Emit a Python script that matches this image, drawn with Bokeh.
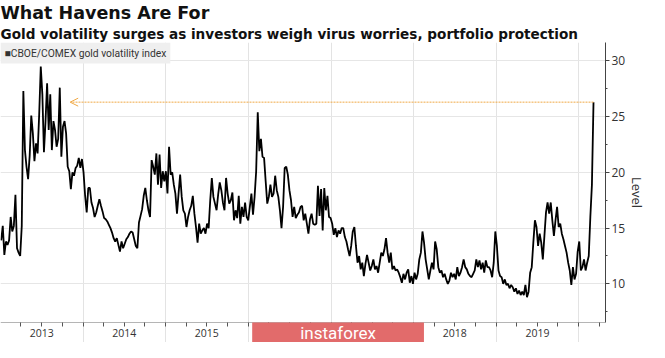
import pandas as pd
from bokeh.plotting import figure
from bokeh.models import (Range1d, FixedTicker, Title, Arrow, OpenHead, Label,
                          CustomJSTickFormatter)
from bokeh.embed import file_html
from bokeh.resources import INLINE

title_text = "What Havens Are For"
subtitle_text = "Gold volatility surges as investors weigh virus worries, portfolio protection"
series_name = "CBOE/COMEX gold volatility index"
y_axis_title = "Level"
watermark_text = "instaforex"

# weekly readings (Fridays), first week ending 2013-01-04
first_week = "2013-01-04"
level_2013 = [13.9, 15.2, 12.6, 13.8, 13.5, 13.9, 16.0, 14.7, 15.2, 18.0,
              13.2, 12.8, 12.5, 15.2, 27.3, 22.0, 20.5, 19.4, 21.5, 25.1,
              23.5, 21.0, 22.6, 21.7, 25.2, 29.5, 27.0, 21.8, 24.6, 28.0,
              23.8, 27.0, 22.0, 24.6, 23.8, 22.3, 23.0, 27.6, 21.4, 24.1,
              24.6, 23.5, 20.5, 20.1, 18.5, 20.0, 19.7, 20.4, 20.6, 21.3,
              20.4, 21.2]
level_2014 = [20.0, 17.9, 16.4, 18.6, 18.6, 17.3, 16.8, 16.0, 16.4, 17.0,
              17.6, 17.0, 16.5, 15.9, 15.8, 15.6, 15.3, 15.0, 14.6, 14.1,
              13.8, 14.1, 13.5, 12.9, 13.8, 13.2, 13.6, 14.0, 14.2, 14.5,
              14.7, 14.6, 14.0, 13.4, 13.2, 15.5, 16.1, 16.7, 17.9, 18.6,
              17.5, 16.6, 16.0, 21.1, 20.5, 19.8, 21.7, 18.9, 21.6, 18.6,
              20.1, 19.2]
level_2015 = [20.1, 18.1, 22.3, 19.8, 20.0, 18.9, 18.1, 16.3, 18.1, 19.8,
              17.8, 16.6, 16.3, 15.1, 16.0, 16.6, 17.0, 17.9, 16.3, 15.1,
              13.7, 15.4, 14.5, 14.8, 15.0, 14.5, 15.4, 15.0, 17.5, 19.5,
              17.8, 17.2, 16.6, 18.0, 19.1, 18.4, 17.3, 16.6, 19.5, 18.1,
              17.2, 17.5, 18.2, 15.7, 16.6, 15.9, 17.9, 15.4, 16.9, 16.0,
              17.3, 16.0]
level_2016 = [15.7, 16.9, 18.1, 16.2, 17.8, 20.1, 25.4, 21.9, 23.0, 21.4,
              21.3, 19.2, 17.2, 17.8, 18.9, 17.8, 18.1, 19.7, 18.4, 17.8,
              16.6, 15.0, 16.9, 20.4, 20.5, 19.8, 18.4, 17.5, 16.0, 16.9,
              15.9, 16.2, 16.4, 16.9, 17.0, 15.7, 16.3, 15.4, 14.5, 15.8,
              16.3, 15.4, 15.3, 15.4, 18.8, 16.1, 18.5, 14.8, 18.6, 16.6,
              17.9, 16.0, 15.9]
level_2017 = [15.4, 14.4, 15.0, 14.2, 14.8, 14.5, 15.0, 15.0, 14.2, 13.8,
              13.1, 12.5, 13.4, 14.7, 15.1, 13.4, 11.9, 12.5, 11.3, 11.9,
              10.7, 11.8, 12.6, 11.9, 11.2, 11.6, 12.2, 11.3, 11.6, 11.0,
              11.9, 12.8, 12.5, 13.1, 14.1, 12.8, 11.9, 12.8, 11.3, 11.6,
              11.2, 11.3, 11.0, 10.6, 10.1, 10.9, 10.4, 11.0, 11.3, 10.1,
              10.7, 10.0]
level_2018 = [11.0, 10.4, 10.9, 12.2, 12.8, 14.7, 13.7, 12.2, 11.3, 10.4,
              11.2, 11.9, 11.3, 13.8, 13.1, 11.5, 11.0, 11.2, 10.6, 10.9,
              10.4, 10.0, 10.3, 11.0, 10.6, 10.9, 10.4, 11.5, 10.7, 11.0,
              11.5, 12.2, 11.5, 11.3, 10.9, 10.7, 10.6, 10.9, 11.2, 12.2,
              11.5, 12.1, 11.3, 11.9, 11.0, 12.1, 11.5, 11.5, 11.2, 10.6,
              11.9, 14.7]
level_2019 = [13.4, 11.2, 10.7, 10.6, 10.0, 10.4, 9.9, 10.0, 9.6, 9.9,
              9.7, 9.3, 9.6, 9.1, 9.4, 9.0, 9.3, 9.0, 9.9, 8.8,
              9.3, 11.0, 11.5, 13.7, 15.7, 15.1, 13.4, 14.5, 13.7, 12.2,
              14.3, 16.4, 17.3, 16.3, 17.3, 15.7, 14.3, 15.7, 16.9, 15.1,
              15.4, 14.5, 14.0, 13.4, 12.8, 11.9, 11.2, 9.9, 11.5, 10.4,
              10.9, 12.9]
level_2020 = [13.8, 11.2, 11.5, 12.2, 11.2, 11.9, 12.5, 16.0, 18.9, 26.3]

year_labels = ["2013", "2014", "2015", "2016", "2017", "2018", "2019"]
y_ticks = [10, 15, 20, 25, 30]
y_minor_ticks = [7.5, 12.5, 17.5, 22.5, 27.5]
arrow_back_to = "2013-11-05"

levels = (level_2013 + level_2014 + level_2015 + level_2016 + level_2017
          + level_2018 + level_2019 + level_2020)
dates = pd.date_range(first_week, periods=len(levels), freq="7D")


def ms(d):
    return pd.Timestamp(d).value / 1e6


# layout constants (data-space positions of the axis baseline and text rows)
y_axis_floor = 6.5      # level at which the time axis is drawn
y_top = 31.65
y_bottom = 4.74         # frame continues below the axis for the year labels
y_year_row = 5.55
watermark_at = "2017-02-01"
x_start, x_end = "2013-01-01", "2020-04-28"

year_starts = [ms(f"{int(y) + 1}-01-01") for y in year_labels]
mid_years = [ms(f"{y}-07-02") for y in year_labels]
quarters = [d.value / 1e6 for d in pd.date_range("2013-04-01", "2020-04-01", freq="QS")]

p = figure(width=649, height=342, x_axis_type="datetime", y_axis_location="right",
           x_axis_location="above",
           x_range=Range1d(pd.Timestamp(x_start), pd.Timestamp(x_end)),
           y_range=Range1d(y_bottom, y_top), output_backend="svg", toolbar_location=None,
           min_border_left=0, min_border_right=0, min_border_top=0, min_border_bottom=0)
p.outline_line_color = None
p.background_fill_color = "white"
p.border_fill_color = "white"

# titles
sub = Title(text=subtitle_text, text_font="DejaVu Sans", text_font_size="13.6px",
            text_font_style="bold", text_color="#111111", align="left", offset=0, standoff=2)
main = Title(text=title_text, text_font="DejaVu Sans", text_font_size="17.5px",
             text_font_style="bold", text_color="#111111", align="left", offset=0, standoff=0)
p.add_layout(sub, "above")
p.add_layout(main, "above")

# grid
p.ygrid.ticker = FixedTicker(ticks=y_ticks)
p.ygrid.grid_line_color = "#e6e6e6"
p.xgrid.ticker = FixedTicker(ticks=year_starts)
p.xgrid.grid_line_color = "#e3e3e3"

# time axis drawn at the bottom of the value area, quarterly ticks pointing down
p.xaxis.fixed_location = y_axis_floor
p.xaxis.ticker = FixedTicker(ticks=year_starts, minor_ticks=quarters)
p.xaxis.formatter = CustomJSTickFormatter(code="return ''")
p.xaxis.major_tick_out = 0
p.xaxis.major_tick_in = 0
p.xaxis.minor_tick_out = 0
p.xaxis.minor_tick_in = 4
p.xaxis.minor_tick_line_color = "#555555"
p.xaxis.axis_line_color = "#b5b5b5"
p.xaxis.major_label_text_font_size = "1px"
p.xaxis.major_label_standoff = 0

# value axis on the right
p.yaxis.bounds = (y_axis_floor, y_top)
p.yaxis.ticker = FixedTicker(ticks=y_ticks, minor_ticks=y_minor_ticks)
p.yaxis.major_tick_out = 4
p.yaxis.major_tick_in = 0
p.yaxis.minor_tick_out = 2
p.yaxis.minor_tick_in = 0
p.yaxis.axis_line_color = "#444444"
p.yaxis.major_tick_line_color = "#444444"
p.yaxis.minor_tick_line_color = "#444444"
p.yaxis.major_label_text_font = "Open Sans"
p.yaxis.major_label_text_font_size = "12px"
p.yaxis.major_label_text_color = "#333333"
p.yaxis.major_label_standoff = 2
p.yaxis.axis_label = y_axis_title
p.yaxis.axis_label_text_font = "Open Sans"
p.yaxis.axis_label_text_font_size = "13px"
p.yaxis.axis_label_text_font_style = "normal"
p.yaxis.axis_label_text_color = "#333333"
p.yaxis.axis_label_standoff = 0

# series
p.line(dates, levels, line_color="black", line_width=1.8)

# arrow from latest level back to 2013
p.add_layout(Arrow(x_start=ms(dates[-1]), y_start=levels[-1],
                   x_end=ms(arrow_back_to), y_end=levels[-1],
                   start=None, end=OpenHead(size=8, line_color="#f0a844", line_width=1),
                   line_color="#f0a844", line_width=1, line_dash="2 1"))

# legend box
p.add_layout(Label(x=ms(x_start), y=y_top, text="\u25a0" + series_name,
                   text_align="left", text_baseline="top",
                   text_font="Roboto", text_font_size="10.3px", text_color="#333333",
                   background_fill_color="#efefef", background_fill_alpha=1.0,
                   padding=(4, 4)))

# year labels
for lbl, mx in zip(year_labels, mid_years):
    p.add_layout(Label(x=mx, y=y_year_row, text=lbl,
                       text_align="center", text_baseline="middle",
                       text_font="Open Sans", text_font_size="10.5px",
                       text_color="#333333"))

# watermark
p.add_layout(Label(x=ms(watermark_at), y=y_year_row, text=watermark_text,
                   text_align="center", text_baseline="middle",
                   text_font="Roboto", text_font_size="17px", text_color="white",
                   background_fill_color="#e26b6b", background_fill_alpha=1.0,
                   padding=(48, 1)))

open("out.html", "w").write(file_html(p, INLINE))
